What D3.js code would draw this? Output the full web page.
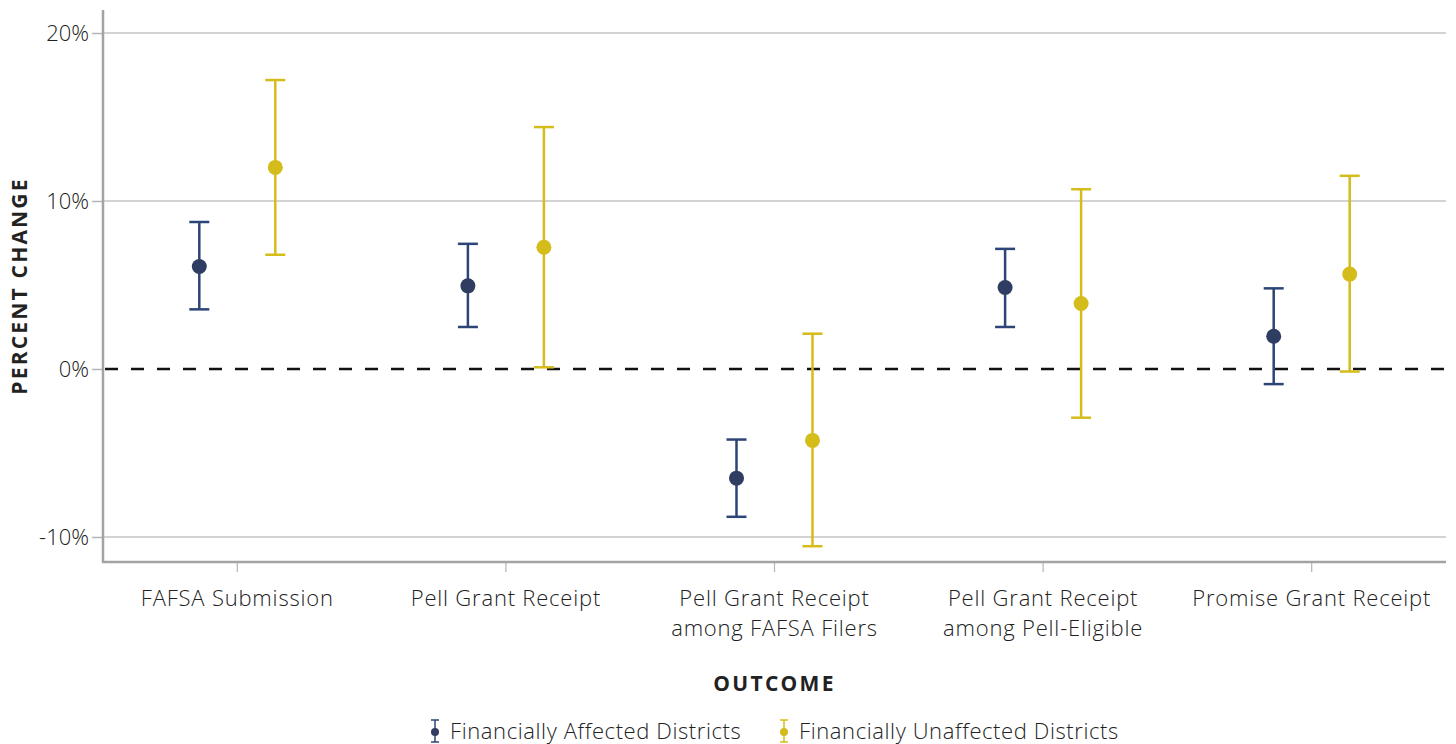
<!DOCTYPE html>
<html>
<head>
<meta charset="utf-8">
<script src="https://cdn.jsdelivr.net/npm/d3@7"></script>
<style>
  body { margin: 0; background: #fff; }
  svg text { font-family: "Open Sans", "Noto Sans", sans-serif; fill: #222; }
</style>
</head>
<body>
<svg width="1456" height="744"></svg>
<script>
// categories (two-line labels)
const categories = [
  ["FAFSA Submission"],
  ["Pell Grant Receipt"],
  ["Pell Grant Receipt", "among FAFSA Filers"],
  ["Pell Grant Receipt", "among Pell-Eligible"],
  ["Promise Grant Receipt"]
];
const seriesNames = ["Financially Affected Districts", "Financially Unaffected Districts"];
const seriesColors = ["#2d4477", "#d4bc1b"];
const dotColors = ["#2f3d62", "#d4bc1b"];

// point estimates and confidence bounds, in percent
const affectedEst   = [6.1, 4.95, -6.5, 4.85, 1.95];
const affectedLow   = [3.55, 2.5, -8.8, 2.5, -0.9];
const affectedHigh  = [8.75, 7.45, -4.2, 7.15, 4.8];
const unaffectedEst = [12.0, 7.25, -4.25, 3.9, 5.65];
const unaffectedLow = [6.8, 0.1, -10.55, -2.9, -0.15];
const unaffectedHigh= [17.2, 14.4, 2.1, 10.7, 11.5];
const yTicks = [-10, 0, 10, 20];

const series = [
  { est: affectedEst, low: affectedLow, high: affectedHigh },
  { est: unaffectedEst, low: unaffectedLow, high: unaffectedHigh }
];

const svg = d3.select("svg");
const margin = { left: 103, right: 10, top: 10, bottom: 182 };
const width = 1456, height = 744;

const x = d3.scaleBand()
  .domain(d3.range(categories.length))
  .range([margin.left, width - margin.right]);

const y = d3.scaleLinear()
  .domain([-11.49, 21.37])
  .range([height - margin.bottom, margin.top]);

const offset = d3.scalePoint().domain([0, 1]).range([-38, 38]);

// gridlines
svg.append("g")
  .selectAll("line")
  .data(yTicks.filter(d => d !== 0))
  .join("line")
    .attr("x1", margin.left).attr("x2", width - margin.right)
    .attr("y1", d => y(d)).attr("y2", d => y(d))
    .attr("stroke", "#c4c4c4").attr("stroke-width", 1.5);

// y axis
const yAxis = svg.append("g")
  .attr("transform", `translate(${margin.left},0)`)
  .call(d3.axisLeft(y).tickValues(yTicks).tickFormat(d => d + "%").tickSize(11).tickPadding(3));
yAxis.select(".domain").remove();
yAxis.selectAll(".tick line").attr("stroke", "#b5b5b5").attr("stroke-width", 1.5);
yAxis.selectAll(".tick text").attr("font-size", 22).attr("font-weight", 300)
  .attr("font-family", "'Open Sans', sans-serif").style("fill", "#222");

// x axis
const xAxis = svg.append("g")
  .attr("transform", `translate(0,${height - margin.bottom})`)
  .call(d3.axisBottom(x).tickSize(10).tickFormat(""));
xAxis.select(".domain").remove();
xAxis.selectAll(".tick line").attr("stroke", "#b5b5b5").attr("stroke-width", 1.2);

xAxis.selectAll(".tick").each(function(d) {
  const t = d3.select(this).append("text")
    .attr("text-anchor", "middle")
    .attr("font-size", 22)
    .attr("font-weight", 300)
    .attr("letter-spacing", 0.8)
    .attr("font-family", "'Open Sans', sans-serif")
    .style("fill", "#222");
  categories[d].forEach((line, i) => {
    t.append("tspan").attr("x", 0).attr("y", 44 + i * 30).text(line);
  });
});

// axis lines
svg.append("line")
  .attr("x1", margin.left).attr("x2", margin.left)
  .attr("y1", margin.top).attr("y2", height - margin.bottom + 1)
  .attr("stroke", "#a3a3a3").attr("stroke-width", 2.5);
svg.append("line")
  .attr("x1", margin.left - 1).attr("x2", width - margin.right)
  .attr("y1", height - margin.bottom).attr("y2", height - margin.bottom)
  .attr("stroke", "#a3a3a3").attr("stroke-width", 2.5);

// zero dashed line
svg.append("line")
  .attr("x1", margin.left + 2).attr("x2", width - margin.right)
  .attr("y1", y(0)).attr("y2", y(0))
  .attr("stroke", "#111").attr("stroke-width", 2.5)
  .attr("stroke-dasharray", "13,13");

// error bars and points
series.forEach((s, si) => {
  const g = svg.append("g");
  const cx = i => x(i) + x.bandwidth() / 2 + offset(si);
  const idx = d3.range(categories.length);
  g.selectAll(".whisker").data(idx).join("line")
    .attr("x1", cx).attr("x2", cx)
    .attr("y1", i => y(s.high[i])).attr("y2", i => y(s.low[i]))
    .attr("stroke", seriesColors[si]).attr("stroke-width", 2.5);
  g.selectAll(".capTop").data(idx).join("line")
    .attr("x1", i => cx(i) - 10).attr("x2", i => cx(i) + 10)
    .attr("y1", i => y(s.high[i])).attr("y2", i => y(s.high[i]))
    .attr("stroke", seriesColors[si]).attr("stroke-width", 2.5);
  g.selectAll(".capBot").data(idx).join("line")
    .attr("x1", i => cx(i) - 10).attr("x2", i => cx(i) + 10)
    .attr("y1", i => y(s.low[i])).attr("y2", i => y(s.low[i]))
    .attr("stroke", seriesColors[si]).attr("stroke-width", 2.5);
  g.selectAll("circle").data(idx).join("circle")
    .attr("cx", cx).attr("cy", i => y(s.est[i]))
    .attr("r", 7.5)
    .attr("fill", dotColors[si]);
});

// axis titles
svg.append("text")
  .attr("transform", `translate(27,${(y(20) + y(-10)) / 2 + 1}) rotate(-90)`)
  .attr("text-anchor", "middle")
  .attr("font-size", 21).attr("font-weight", 700)
  .attr("letter-spacing", 2.2)
  .text("PERCENT CHANGE");

svg.append("text")
  .attr("x", x(2) + x.bandwidth() / 2).attr("y", 691)
  .attr("text-anchor", "middle")
  .attr("font-size", 21).attr("font-weight", 700)
  .attr("letter-spacing", 2.3)
  .text("OUTCOME");

// legend
const legend = svg.append("g").attr("transform", "translate(435,731)");
const legendX = [0, 349];
seriesNames.forEach((name, i) => {
  const lg = legend.append("g").attr("transform", `translate(${legendX[i]},0)`);
  lg.append("line").attr("x1", 0).attr("x2", 0).attr("y1", -11).attr("y2", 11)
    .attr("stroke", seriesColors[i]).attr("stroke-width", 1.5);
  lg.append("line").attr("x1", -4).attr("x2", 4).attr("y1", -11).attr("y2", -11)
    .attr("stroke", seriesColors[i]).attr("stroke-width", 1.5);
  lg.append("line").attr("x1", -4).attr("x2", 4).attr("y1", 11).attr("y2", 11)
    .attr("stroke", seriesColors[i]).attr("stroke-width", 1.5);
  lg.append("circle").attr("cx", 0).attr("cy", 1).attr("r", 4).attr("fill", dotColors[i]);
  lg.append("text").attr("x", 15).attr("y", 8).attr("font-size", 22).attr("font-weight", 300)
    .attr("letter-spacing", 0.6).text(name);
});
</script>
</body>
</html>
